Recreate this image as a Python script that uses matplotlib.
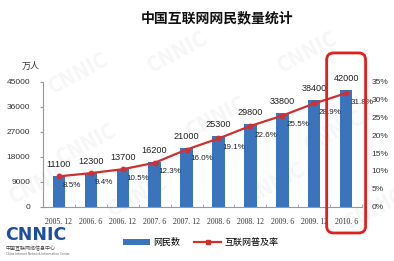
import matplotlib
matplotlib.use("Agg")
import matplotlib.pyplot as plt
from matplotlib.patches import FancyBboxPatch
from matplotlib.lines import Line2D
from matplotlib.patches import Patch
import numpy as np

plt.rcParams['font.family'] = ['Noto Sans CJK SC', 'DejaVu Sans']

periods = ["2005. 12", "2006. 6", "2006. 12", "2007. 6", "2007. 12",
           "2008. 6", "2008. 12", "2009. 6", "2009. 12", "2010. 6"]
users = [11100, 12300, 13700, 16200, 21000, 25300, 29800, 33800, 38400, 42000]
rate = [8.5, 9.4, 10.5, 12.3, 16.0, 19.1, 22.6, 25.5, 28.9, 31.8]
left_ticks = [0, 9000, 18000, 27000, 36000, 45000]
right_ticks = [0, 5, 10, 15, 20, 25, 30, 35]

title = "中国互联网网民数量统计"
unit = "万人"
bar_name = "网民数"
line_name = "互联网普及率"

bar_color = "#3a74bd"
line_color = "#d0302f"
num_font = "Liberation Sans"

fig = plt.figure(figsize=(3.94, 2.61), dpi=100)

# faint watermarks (behind everything)
for (wx, wy) in [(0.20, 0.72), (0.45, 0.80), (0.78, 0.80), (0.22, 0.45), (0.55, 0.55),
                 (0.85, 0.50), (0.35, 0.25), (0.70, 0.30), (0.95, 0.20), (0.10, 0.30)]:
    fig.text(wx, wy, "CNNIC", fontsize=15, color="#f6f6f6", rotation=28,
             ha="center", va="center", fontweight="bold", zorder=-10)

ax = fig.add_axes([0.109, 0.208, 0.810, 0.479])
x = np.arange(len(periods))
ax.bar(x, users, width=0.39, color=bar_color, zorder=2)
ax.set_xlim(-0.5, len(periods) - 0.5)
ax.set_ylim(0, 45000)
ax.set_yticks(left_ticks)
ax.set_yticklabels([str(v) for v in left_ticks], fontsize=6.0, color="#333333",
                   family=num_font)
ax.set_xticks(x)
ax.set_xticklabels(periods, fontsize=5.6, family="Liberation Serif", color="#333333")
ax.tick_params(axis="x", length=0, pad=8)
ax.set_xticks(np.arange(len(periods) + 1) - 0.5, minor=True)
ax.tick_params(axis="x", which="minor", length=2, direction="in", color="#999999")
ax.tick_params(axis="y", length=2, color="#999999", pad=7)
for s in ["top", "right"]:
    ax.spines[s].set_visible(False)
for s in ["left", "bottom"]:
    ax.spines[s].set_color("#999999")
    ax.spines[s].set_linewidth(0.8)
ax.patch.set_alpha(0)

for xi, v in zip(x, users):
    ax.annotate(str(v), (xi, v), xytext=(0, 5), textcoords="offset points",
                ha="center", va="bottom", fontsize=6.6, color="#222222",
                family=num_font, zorder=5)

ax2 = ax.twinx()
ax2.plot(x, rate, color=line_color, lw=1.6, marker="o", ms=3.2, zorder=4)
ax2.set_ylim(0, 35)
ax2.set_yticks(right_ticks)
ax2.set_yticklabels([f"{v}%" for v in right_ticks], fontsize=6.0, color="#333333",
                    family=num_font)
ax2.tick_params(axis="y", length=0, pad=7)
for s in ["top", "right", "left", "bottom"]:
    ax2.spines[s].set_visible(False)
for xi, r in zip(x, rate):
    ax2.annotate(f"{r:.1f}%", (xi, r), xytext=(3, -4), textcoords="offset points",
                 ha="left", va="top", fontsize=5.8, color="#222222",
                 family=num_font, zorder=5)

ax.text(-0.04, 1.12, unit, transform=ax.transAxes, fontsize=6.5, color="#333333",
        ha="center", va="center")

fig.text(0.55, 0.93, title, fontsize=10, fontweight="bold", ha="center", va="center",
         color="#111111")

# highlight box around the last period
fig.canvas.draw()
lx0, _ = ax.transData.transform((x[-1] - 0.61, 0))
lx1, _ = ax.transData.transform((x[-1] + 0.61, 0))
_, y0 = ax.transAxes.transform((0, -0.21))
_, y1 = ax.transAxes.transform((0, 1.23))
box = FancyBboxPatch((lx0, y0), lx1 - lx0, y1 - y0,
                     boxstyle="round,pad=0,rounding_size=7",
                     transform=None, fill=False, edgecolor="#e0201c", lw=2.0,
                     zorder=10)
fig.patches.append(box)

# legend
handles = [Patch(facecolor=bar_color, edgecolor="none"),
           Line2D([0], [0], color=line_color, lw=1.6, marker="s", ms=3)]
fig.legend(handles, [bar_name, line_name], loc="center", bbox_to_anchor=(0.51, 0.07),
           ncol=2, frameon=False, fontsize=6.5, handlelength=3.0, handleheight=0.6,
           columnspacing=1.5, handletextpad=0.4)

# logo
fig.text(0.012, 0.098, "CNNIC", fontsize=12.5, fontweight="bold", color="#1d4f9c",
         ha="left", va="center", family="DejaVu Sans")
fig.text(0.014, 0.048, "中国互联网络信息中心", fontsize=3.6, color="#444444",
         ha="left", va="center")
fig.text(0.014, 0.025, "China Internet Network Information Center", fontsize=2.3,
         color="#666666", ha="left", va="center")

fig.savefig("out.png", dpi=100)
